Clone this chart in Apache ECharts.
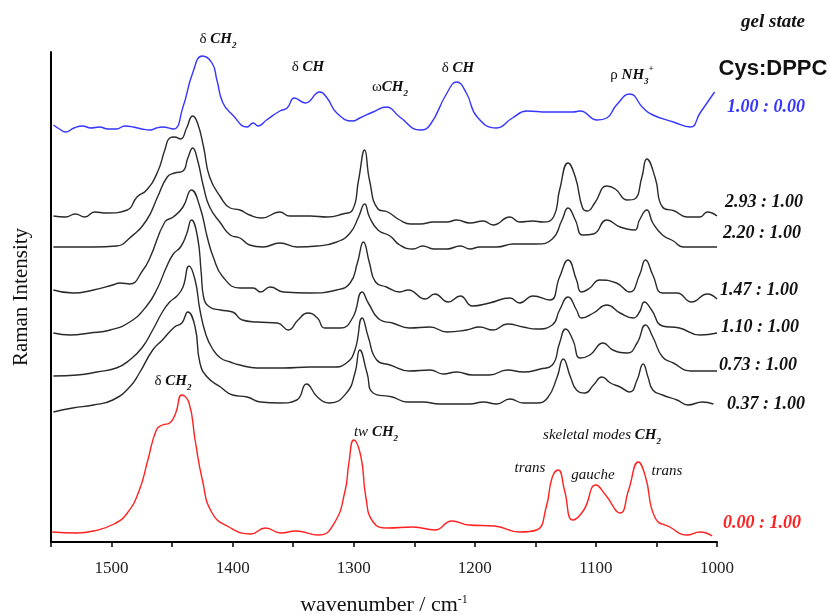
<!DOCTYPE html>
<html>
<head>
<meta charset="utf-8">
<script src="https://cdn.jsdelivr.net/npm/echarts@6.0.0/dist/echarts.min.js"></script>
<style>
  html, body { margin: 0; padding: 0; background: #fff; }
  #chart { width: 830px; height: 615px; }
</style>
</head>
<body>
<div id="chart"></div>
<script>
// spectra as [wavenumber (cm-1), stacked intensity (a.u., offset included)]
const gel100 = [[1548,417],[1543,413],[1538,410],[1531,414],[1524,416],[1517,414],[1510,415],[1503,413],[1496,413],[1489,416],[1482,415],[1475,413],[1468,412],[1463,414],[1458,415],[1449,413],[1441,435],[1433,469],[1425,486],[1417,479],[1413,462],[1408,439],[1400,427],[1388,415],[1383,419],[1379,416],[1372,422],[1361,431],[1355,434],[1349,444],[1340,439],[1328,450],[1322,444],[1314,429],[1301,421],[1295,424],[1284,430],[1273,435],[1262,425],[1245,412],[1237,417],[1223,449],[1215,460],[1207,449],[1198,425],[1182,414],[1169,424],[1157,431],[1140,430],[1119,430],[1113,431],[1099,422],[1091,424],[1083,437],[1072,448],[1061,434],[1053,427],[1036,420],[1022,415],[1014,429],[1002,450]];
const r293 = [[1548,326],[1538,325],[1530,328],[1522,325],[1514,330],[1504,329],[1487,332],[1479,345],[1471,352],[1462,370],[1456,392],[1452,404],[1448,405],[1443,403],[1438,414],[1433,426],[1429,419],[1424,395],[1419,365],[1410,345],[1402,334],[1394,332],[1386,327],[1376,324],[1361,330],[1353,326],[1336,326],[1322,325],[1309,328],[1301,332],[1296,362],[1291,392],[1287,362],[1280,333],[1272,330],[1262,322],[1253,318],[1245,318],[1234,320],[1223,320],[1215,322],[1204,319],[1193,321],[1185,317],[1171,325],[1163,320],[1152,321],[1144,320],[1135,325],[1130,352],[1123,379],[1117,365],[1111,334],[1107,331],[1101,339],[1091,356],[1084,353],[1074,342],[1068,343],[1062,365],[1058,383],[1051,364],[1045,335],[1035,331],[1025,325],[1014,325],[1008,330],[1000,326]];
const r220 = [[1548,295],[1515,295],[1496,296],[1485,304],[1471,322],[1462,345],[1454,365],[1448,369],[1441,371],[1437,384],[1433,394],[1429,382],[1424,355],[1419,335],[1410,319],[1402,307],[1394,304],[1386,297],[1375,295],[1361,299],[1347,295],[1330,296],[1314,300],[1303,309],[1296,325],[1291,338],[1287,325],[1280,312],[1270,306],[1262,297],[1251,293],[1243,296],[1234,293],[1223,293],[1212,296],[1204,293],[1196,295],[1182,295],[1168,298],[1149,298],[1136,303],[1128,322],[1123,334],[1117,322],[1111,307],[1102,308],[1091,322],[1080,315],[1068,312],[1064,322],[1058,332],[1053,319],[1045,307],[1036,301],[1028,295],[1000,295]];
const r147 = [[1548,252],[1532,249],[1515,252],[1499,257],[1493,259],[1485,258],[1474,272],[1468,285],[1456,320],[1449,325],[1441,335],[1434,352],[1427,335],[1421,305],[1416,285],[1408,265],[1394,254],[1383,254],[1377,250],[1369,255],[1358,250],[1336,249],[1314,252],[1303,259],[1297,279],[1292,300],[1287,279],[1282,260],[1273,255],[1262,250],[1255,252],[1241,243],[1233,248],[1222,240],[1212,246],[1202,236],[1188,239],[1171,244],[1163,239],[1152,246],[1138,242],[1130,265],[1123,282],[1116,262],[1112,250],[1105,254],[1097,262],[1083,259],[1072,250],[1064,267],[1059,282],[1053,267],[1045,249],[1033,249],[1021,240],[1008,248],[1000,243]];
const r110 = [[1548,209],[1534,207],[1518,209],[1501,212],[1485,220],[1471,236],[1462,254],[1455,274],[1449,288],[1443,295],[1438,308],[1434,322],[1429,305],[1426,270],[1424,245],[1419,235],[1410,232],[1400,230],[1392,222],[1380,220],[1363,219],[1354,212],[1346,222],[1338,229],[1330,224],[1324,214],[1311,214],[1301,224],[1293,250],[1288,239],[1278,222],[1268,219],[1254,214],[1237,215],[1223,210],[1207,212],[1196,215],[1185,212],[1173,218],[1160,215],[1149,213],[1136,217],[1130,232],[1123,245],[1116,232],[1112,224],[1102,229],[1091,237],[1080,229],[1069,224],[1064,230],[1060,240],[1054,232],[1045,216],[1031,214],[1014,207],[1000,209]];
const r073 = [[1548,166],[1528,167],[1512,170],[1496,174],[1485,182],[1475,194],[1466,212],[1458,230],[1452,240],[1446,246],[1441,255],[1436,276],[1431,262],[1427,232],[1422,207],[1417,194],[1410,184],[1402,180],[1394,177],[1380,174],[1358,174],[1336,175],[1317,175],[1306,179],[1299,192],[1293,224],[1288,205],[1281,182],[1270,177],[1254,171],[1237,172],[1226,168],[1215,170],[1202,167],[1188,167],[1173,172],[1160,170],[1146,173],[1136,177],[1130,199],[1125,213],[1119,202],[1113,184],[1105,187],[1094,199],[1086,192],[1074,189],[1066,199],[1059,217],[1053,205],[1045,185],[1036,179],[1022,171],[1000,171]];
const r037 = [[1548,130],[1532,134],[1515,137],[1499,142],[1485,155],[1477,169],[1466,192],[1458,202],[1448,215],[1442,219],[1437,230],[1431,215],[1427,179],[1421,165],[1410,155],[1400,147],[1388,145],[1377,140],[1361,139],[1347,142],[1339,158],[1330,145],[1320,139],[1306,149],[1299,169],[1295,192],[1289,169],[1284,149],[1268,145],[1256,140],[1243,140],[1229,138],[1215,138],[1204,138],[1193,140],[1182,138],[1171,143],[1160,139],[1149,139],[1140,144],[1132,165],[1127,183],[1121,165],[1116,152],[1109,149],[1102,157],[1095,165],[1088,159],[1080,155],[1072,150],[1066,162],[1061,178],[1057,165],[1053,152],[1045,147],[1033,142],[1024,137],[1012,140],[1003,138]];
const dppc = [[1549,10],[1529,9],[1515,11],[1498,18],[1487,29],[1477,52],[1470,82],[1463,112],[1458,117],[1452,119],[1447,129],[1442,147],[1436,139],[1431,102],[1425,62],[1417,29],[1403,15],[1385,8],[1373,14],[1360,9],[1348,11],[1329,7],[1316,19],[1307,52],[1304,79],[1300,102],[1294,85],[1290,45],[1284,20],[1272,14],[1251,15],[1233,12],[1219,21],[1205,17],[1184,16],[1163,10],[1149,12],[1141,35],[1136,65],[1131,72],[1126,52],[1119,22],[1110,32],[1100,57],[1092,47],[1080,29],[1073,52],[1065,80],[1059,65],[1051,24],[1039,15],[1025,7],[1014,10],[1004,6]];

const ratioLabels = ['1.00 : 0.00', '2.93 : 1.00', '2.20 : 1.00', '1.47 : 1.00', '1.10 : 1.00', '0.73 : 1.00', '0.37 : 1.00', '0.00 : 1.00'];
const ratioColors = ['#3535ff', '#111', '#111', '#111', '#111', '#111', '#111', '#ff2020'];
const spectra = [gel100, r293, r220, r147, r110, r073, r037, dppc];

const serif = 'Liberation Serif';
const rich = {
  d: { fontFamily: serif, fontSize: 15, lineHeight: 22, fill: '#111', color: '#111' },
  b: { fontFamily: serif, fontSize: 15, fontWeight: 'bold', fontStyle: 'italic', lineHeight: 22, fill: '#111', color: '#111' },
  i: { fontFamily: serif, fontSize: 15, fontStyle: 'italic', lineHeight: 22, fill: '#111', color: '#111' },
  sub: { fontFamily: serif, fontSize: 9, fontWeight: 'bold', fontStyle: 'italic', lineHeight: 10, verticalAlign: 'bottom', fill: '#111', color: '#111' },
  sup: { fontFamily: serif, fontSize: 9, fontWeight: 'bold', lineHeight: 10, verticalAlign: 'top', fill: '#111', color: '#111' }
};

// peak assignments: [text, center x px, center y px]
const notes = [
  ['{d|δ }{b|CH}{sub|2}', 218, 39],
  ['{d|δ }{b|CH}', 308, 67],
  ['{d|ω}{b|CH}{sub|2}', 390, 87],
  ['{d|δ }{b|CH}', 458, 68],
  ['{d|ρ }{b|NH}{sub|3}{sup|+}', 632, 75],
  ['{d|δ }{b|CH}{sub|2}', 173, 381],
  ['{i|tw }{b|CH}{sub|2}', 376, 432],
  ['{i|skeletal modes }{b|CH}{sub|2}', 602, 435],
  ['{i|trans}', 530, 468],
  ['{i|gauche}', 593, 475],
  ['{i|trans}', 667, 471]
];
const ratioY = [107, 202, 233, 290, 327, 365, 404, 523];
const ratioX = [727, 725, 723, 720, 721, 719, 727, 723];

const chart = echarts.init(document.getElementById('chart'));

const graphics = [
  { type: 'text', x: 773, y: 22, style: { text: 'gel state', font: 'italic bold 19px "Liberation Serif"', fill: '#111', align: 'center', verticalAlign: 'middle' } },
  { type: 'text', x: 773, y: 69, style: { text: 'Cys:DPPC', font: 'bold 22px "Liberation Sans"', fill: '#111', align: 'center', verticalAlign: 'middle' } }
];
ratioLabels.forEach((t, i) => graphics.push({
  type: 'text', x: ratioX[i], y: ratioY[i],
  style: { text: t, font: 'italic bold 18px "Liberation Serif"', fill: ratioColors[i], align: 'left', verticalAlign: 'middle' }
}));
notes.forEach(n => graphics.push({
  type: 'text', x: n[1], y: n[2],
  style: { text: n[0], rich: rich, align: 'center', verticalAlign: 'middle' }
}));

chart.setOption({
  animation: false,
  backgroundColor: '#fff',
  grid: { left: 51, right: 113, top: 52, bottom: 73, outerBoundsMode: 'none', containLabel: false },
  xAxis: {
    type: 'value', min: 1000, max: 1550, interval: 100, inverse: true,
    axisLine: { lineStyle: { color: '#000', width: 2 } },
    axisTick: { length: 5, lineStyle: { color: '#000', width: 1.5 } },
    minorTick: { show: true, splitNumber: 2, length: 5, lineStyle: { color: '#000', width: 1.5 } },
    splitLine: { show: false },
    axisLabel: {
      fontFamily: serif, fontSize: 17, color: '#222', margin: 18,
      formatter: v => (v === 1550 ? '' : String(v))
    },
    name: 'wavenumber / cm{sup|-1}', nameLocation: 'middle', nameGap: 52,
    nameTextStyle: {
      fontFamily: serif, fontSize: 22, color: '#111',
      rich: { sup: { fontFamily: serif, fontSize: 12, color: '#111', verticalAlign: 'top', lineHeight: 12 } }
    }
  },
  yAxis: {
    type: 'value', min: 0, max: 490,
    axisLine: { show: true, lineStyle: { color: '#000', width: 2 } },
    axisTick: { show: false }, axisLabel: { show: false }, splitLine: { show: false },
    name: 'Raman Intensity', nameLocation: 'middle', nameGap: 19, nameRotate: 90,
    nameTextStyle: { fontFamily: serif, fontSize: 21, color: '#111' }
  },
  series: spectra.map((d, i) => ({
    type: 'line', data: d, showSymbol: false, smooth: 0.5,
    lineStyle: { color: i === 0 ? '#3535ff' : (i === 7 ? '#ff2020' : '#2a2a2a'), width: 1.4 },
    silent: true
  })),
  graphic: graphics
});
</script>
</body>
</html>
